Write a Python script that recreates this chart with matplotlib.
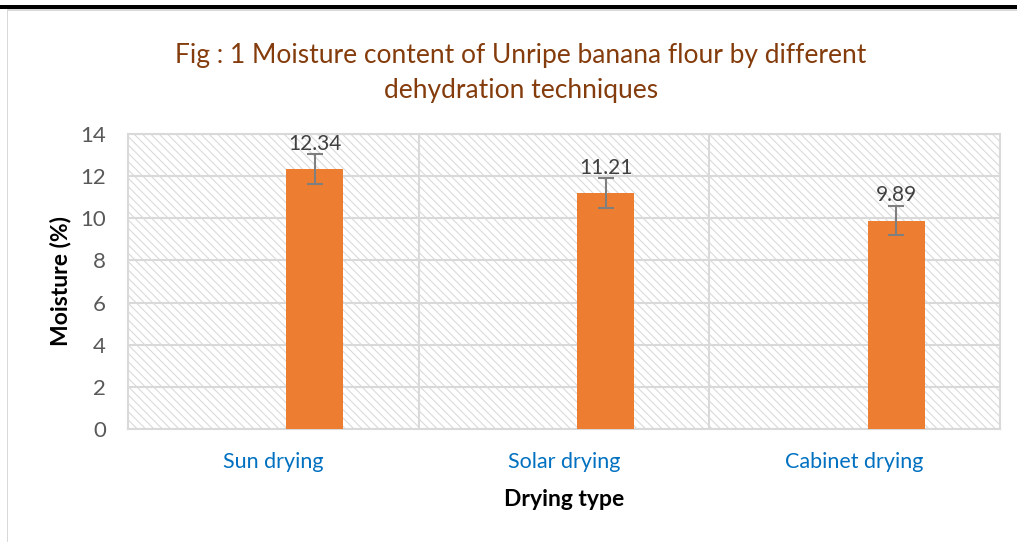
import numpy as np
import matplotlib.pyplot as plt
from matplotlib.patches import Rectangle

# chart data
categories = ["Sun drying", "Solar drying", "Cabinet drying"]
moisture = [12.34, 11.21, 9.89]
moisture_err = [0.71, 0.70, 0.70]
y_ticks = [0, 2, 4, 6, 8, 10, 12, 14]

plt.rcParams["font.family"] = ["Lato", "DejaVu Sans"]
plt.rcParams["hatch.linewidth"] = 0.8

fig = plt.figure(figsize=(10.17, 5.42), dpi=100)

# page frame from the screenshot
fig.patches.append(Rectangle((0, 1 - 9 / 542), 1, 4 / 542, transform=fig.transFigure,
                             facecolor="black", edgecolor="none"))
fig.patches.append(Rectangle((7 / 1017, 0), 1.2 / 1017, 1 - 10 / 542, transform=fig.transFigure,
                             facecolor="#d9d9d9", edgecolor="none"))
fig.patches.append(Rectangle((7 / 1017, 1 - 10.5 / 542), 1, 1.5 / 542, transform=fig.transFigure,
                             facecolor="#d9d9d9", edgecolor="none"))

ax = fig.add_axes([128 / 1017, 1 - 429 / 542, 872 / 1017, 295 / 542])
x = np.arange(len(categories))

# hatched plot area
ax.add_patch(Rectangle((0, 0), 1, 1, transform=ax.transAxes, facecolor="white",
                       edgecolor="#dadada", linewidth=0, hatch="\\\\\\\\", zorder=0))

ax.set_xlim(-0.5, len(categories) - 0.5)
ax.set_ylim(0, 14)
ax.set_yticks(y_ticks)
ax.yaxis.grid(True, color="#d9d9d9", linewidth=1.5, zorder=1)
for b in x[:-1] + 0.5:
    ax.axvline(b, color="#d9d9d9", linewidth=1.5, zorder=1)

bx = x + 0.143
ax.bar(bx, moisture, width=0.196, color="#ED7D31", zorder=3)
ax.errorbar(bx, moisture, yerr=moisture_err, fmt="none", ecolor="#7f7f7f",
            elinewidth=1.5, capsize=6, capthick=1.5, zorder=4)
for xi, v in zip(bx, moisture):
    ax.annotate(f"{v:.2f}", (xi, v), xytext=(0, 11), textcoords="offset points",
                ha="center", va="bottom", fontsize=15, color="#404040", zorder=5)

for s in ax.spines.values():
    s.set_color("#d9d9d9")
    s.set_linewidth(1.5)
ax.tick_params(length=0)
ax.set_xticks(x)
ax.set_xticklabels(categories, fontsize=15.5, color="#0070C0")
ax.tick_params(axis="x", pad=16.5)
ax.tick_params(axis="y", labelsize=16, labelcolor="#595959", pad=16)
ax.set_xlabel("Drying type", fontsize=16.5, fontweight="bold", labelpad=12)
ax.set_ylabel("Moisture (%)", fontsize=16.5, fontweight="bold", labelpad=6)

fig.text(0.512, 1 - 73 / 542, "Fig : 1 Moisture content of Unripe banana flour by different\ndehydration techniques",
         ha="center", va="center", fontsize=19, color="#843C0C", linespacing=1.5)

fig.savefig("out.png", dpi=100)
